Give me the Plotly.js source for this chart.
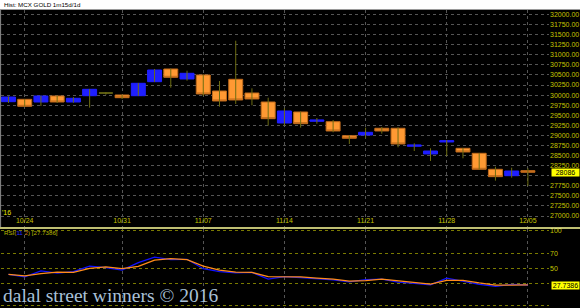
<!DOCTYPE html>
<html><head><meta charset="utf-8">
<script src="https://cdn.plot.ly/plotly-3.0.1.min.js"></script>
<style>html,body{margin:0;padding:0;background:#000;}#chart{width:580px;height:308px;}</style>
</head><body><div id="chart"></div>
<script>
// ---- data ----
const dates = ['10/21','10/24','10/25','10/26','10/27','10/28','10/30','10/31','11/01','11/02','11/03','11/04',
  '11/07','11/08','11/09','11/10','11/11','11/14','11/15','11/16','11/17','11/18','11/21','11/22','11/23','11/24',
  '11/25','11/28','11/29','11/30','12/01','12/02','12/05'];
const openP  = [29837,29896,29829,29978,29829,29985,30050,30003,29985,30333,30648,30400,30499,30102,30392,30052,29829,
  29308,29581,29350,29340,28993,29010,29177,29177,28730,28539,28837,28680,28556,28159,28000,28125];
const highP  = [29965,29905,29985,29985,29950,30150,30075,30010,30300,30648,30660,30606,30505,30350,31350,30169,29936,
  29673,29590,29432,29383,29000,29192,29209,29201,28804,28680,28886,28690,28565,28224,28199,28184];
const lowP   = [29805,29715,29730,29804,29812,29688,30010,29903,29980,30325,30184,30358,29978,29713,29780,29747,29241,
  29241,29192,29291,29077,28787,28929,29043,28705,28613,28365,28489,28432,28155,27877,27951,27745];
const closeP = [29953,29722,29978,29829,29921,30144,30050,29936,30293,30623,30442,30541,30028,29854,29879,29904,29415,
  29606,29291,29383,29110,28929,29077,29110,28787,28762,28613,28869,28589,28159,27976,28117,28086];
const rsiLine   = [42,38.5,46.5,43.5,45.5,53,51,47.5,57.5,65,61.5,62,49.5,45.5,44,44.5,35.5,39,37.5,36.5,34.5,32,35,35.5,
  31.5,30,28,37,32.5,28.5,26,28.5,27.7386];
const rsiSignal = [42,40,42.8,45,44.5,50,52,49.5,52.5,61,63,61.5,53,47.5,45,44.5,39,39,38.5,37,35.5,33,33.5,35.5,
  33.5,31,29,34,34,30.5,27.5,27.5,28];
const weekTicks  = ['10/24','10/31','11/07','11/14','11/21','11/28','12/05'];
const priceTicks = [27000,27250,27500,27750,28000,28250,28500,28750,29000,29250,29500,29750,30000,30250,30500,30750,
  31000,31250,31500,31750,32000];
const rsiTicks = [0,30,50,70,100];
const lastPrice = 28086;
const lastRsi = 27.7386;
const chartTitle = 'Hist: MCX GOLD 1m15d/1d';
const watermark = 'dalal street winners \u00a9 2016';

// ---- styles ----
const BLUE = '#1f1fff', ORANGE = '#ff9933', WICK = '#6e6e12', LBL = '#c4c400';
const FAM = '"Liberation Sans Narrow","Liberation Sans",Arial,sans-serif';
const tickFont = {family: FAM, size: 7, color: LBL};

// wicks
const wx = [], wy = [];
dates.forEach((d, i) => { wx.push(d, d, null); wy.push(highP[i], lowP[i], null); });

const idxBody = dates.map((d, i) => i).filter(i => openP[i] !== closeP[i]);
const idxDoji = dates.map((d, i) => i).filter(i => openP[i] === closeP[i]);

const traces = [
  {type: 'scatter', mode: 'lines', x: wx, y: wy, xaxis: 'x', yaxis: 'y',
   line: {color: WICK, width: 1}, hoverinfo: 'skip', connectgaps: false},
  {type: 'candlestick', xaxis: 'x', yaxis: 'y',
   x: idxBody.map(i => dates[i]),
   open: idxBody.map(i => openP[i]), close: idxBody.map(i => closeP[i]),
   high: idxBody.map(i => Math.max(openP[i], closeP[i])), low: idxBody.map(i => Math.min(openP[i], closeP[i])),
   increasing: {fillcolor: BLUE, line: {color: BLUE, width: 1}},
   decreasing: {fillcolor: ORANGE, line: {color: '#c06a1c', width: 1}},
   whiskerwidth: 0, hoverinfo: 'skip'},
  {type: 'candlestick', xaxis: 'x', yaxis: 'y',
   x: idxDoji.map(i => dates[i]),
   open: idxDoji.map(i => openP[i]), close: idxDoji.map(i => closeP[i]),
   high: idxDoji.map(i => openP[i]), low: idxDoji.map(i => closeP[i]),
   increasing: {fillcolor: '#7a7a18', line: {color: '#7a7a18', width: 1.5}},
   decreasing: {fillcolor: '#7a7a18', line: {color: '#7a7a18', width: 1.5}},
   whiskerwidth: 0, hoverinfo: 'skip'},
  {type: 'scatter', mode: 'lines', x: dates, y: rsiLine, xaxis: 'x2', yaxis: 'y2',
   line: {color: '#1010ff', width: 1.3}, hoverinfo: 'skip'},
  {type: 'scatter', mode: 'lines', x: dates, y: rsiSignal, xaxis: 'x2', yaxis: 'y2',
   line: {color: '#ff8c1a', width: 1.3}, hoverinfo: 'skip'}
];

const H = 308, W = 580;
const xDom = [1 / W, 549 / W];
const xr = [-0.46, 33.3];
const gridGrey = '#555555';

const layout = {
  width: W, height: H, margin: {l: 0, r: 0, t: 0, b: 0},
  paper_bgcolor: '#000', plot_bgcolor: '#000', showlegend: false,
  boxgap: 0.14, boxgroupgap: 0,
  xaxis: {domain: xDom, anchor: 'y', type: 'category', categoryorder: 'array', categoryarray: dates,
    range: xr, tickvals: weekTicks, ticktext: weekTicks, ticklabelposition: 'inside', ticks: '',
    showgrid: true, gridcolor: gridGrey, griddash: 'dot', gridwidth: 1, zeroline: false, showline: false,
    tickfont: tickFont, rangeslider: {visible: false}, fixedrange: true},
  yaxis: {domain: [(H - 227) / H, (H - 10) / H], anchor: 'x', side: 'right', range: [26727, 32112],
    tickvals: priceTicks, ticktext: priceTicks.map(v => Math.abs(v - lastPrice) < 100 ? '' : v.toFixed(2)),
    ticks: '', ticklabelstandoff: 0, showgrid: true, gridcolor: gridGrey, griddash: 'dot', gridwidth: 1,
    zeroline: false, showline: false, tickfont: tickFont, fixedrange: true},
  xaxis2: {domain: xDom, anchor: 'y2', type: 'category', categoryorder: 'array', categoryarray: dates,
    range: xr, tickvals: weekTicks, showticklabels: false, ticks: '',
    showgrid: true, gridcolor: gridGrey, griddash: 'dot', gridwidth: 1, zeroline: false, showline: false,
    fixedrange: true},
  yaxis2: {domain: [0, (H - 229) / H], anchor: 'x2', side: 'right', range: [-2.9, 102.4],
    tickvals: rsiTicks, ticktext: rsiTicks.map(v => Math.abs(v - lastRsi) < 5 ? '' : String(v)),
    ticks: '', ticklabelstandoff: 0, showgrid: true, gridcolor: '#7a7a00', griddash: 'dot', gridwidth: 1,
    zeroline: false, showline: false, tickfont: tickFont, fixedrange: true},
  shapes: [
    {type: 'rect', xref: 'paper', yref: 'paper', x0: 0, x1: 1, y0: (H - 9.5) / H, y1: 1,
     fillcolor: '#ffffff', line: {width: 0}, layer: 'above'},
    {type: 'line', xref: 'paper', yref: 'paper', x0: 0, x1: 1, y0: (H - 9.5) / H, y1: (H - 9.5) / H,
     line: {color: '#9a9a9a', width: 1}, layer: 'above'},
    {type: 'line', xref: 'paper', yref: 'paper', x0: 0, x1: 1, y0: (H - 228) / H, y1: (H - 228) / H,
     line: {color: '#ffff99', width: 1.6}, layer: 'above'},
    {type: 'line', xref: 'paper', yref: 'paper', x0: 0.6 / W, x1: 0.6 / W, y0: (H - 227) / H, y1: (H - 10) / H,
     line: {color: '#8a8a8a', width: 1}, layer: 'above'}
  ],
  annotations: [
    {xref: 'paper', yref: 'paper', x: 2 / W, y: (H - 4.5) / H, xanchor: 'left', yanchor: 'middle',
     text: chartTitle, showarrow: false, font: {family: 'Liberation Sans, Arial, sans-serif', size: 6.2, color: '#000'}},
    {xref: 'paper', yref: 'paper', x: 0, y: (H - 212) / H, xanchor: 'left', yanchor: 'middle',
     text: "'16", showarrow: false, font: {family: FAM, size: 7, color: '#e8e800'}},
    {xref: 'paper', yref: 'paper', x: 1.5 / W, y: (H - 232.5) / H, xanchor: 'left', yanchor: 'middle',
     text: 'RSI(<span style="color:#2a2aff">11</span> <span style="color:#d27a1e">2</span>) [' + lastRsi.toFixed(4) + ']',
     showarrow: false, font: {family: FAM, size: 6.2, color: '#b8b800'}},
    {xref: 'paper', yref: 'y', x: 551 / W, y: lastPrice, xanchor: 'left', yanchor: 'middle',
     text: String(lastPrice), showarrow: false, bgcolor: '#ffff00', borderpad: 0,
     font: {family: FAM, size: 7, color: '#000'}, width: 27, align: 'center'},
    {xref: 'paper', yref: 'y2', x: 551 / W, y: lastRsi, xanchor: 'left', yanchor: 'middle',
     text: lastRsi.toFixed(4), showarrow: false, bgcolor: '#ffff00', borderpad: 0,
     font: {family: FAM, size: 7, color: '#000'}, width: 27, align: 'center'},
    {xref: 'paper', yref: 'paper', x: 1 / W, y: (H - 295) / H, xanchor: 'left', yanchor: 'middle',
     text: watermark, showarrow: false,
     font: {family: '"Liberation Serif","Times New Roman",serif', size: 19.5, color: '#a9c0d8'}}
  ]
};

Plotly.newPlot('chart', traces, layout, {displayModeBar: false, staticPlot: true});
</script></body></html>
